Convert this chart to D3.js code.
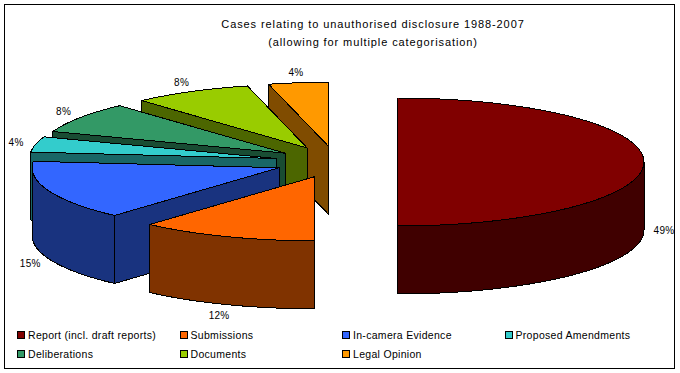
<!DOCTYPE html>
<html lang="en">
<head>
<meta charset="UTF-8">
<title>Cases relating to unauthorised disclosure</title>
<script src="https://d3js.org/d3.v7.min.js"></script>
<style>
  html, body { margin: 0; padding: 0; background: #fff; }
  svg { display: block; }
  text { font-family: "Liberation Sans", Arial, sans-serif; fill: #000; }
  .title { font-size: 11px; letter-spacing: 0.9px; }
  .pct { font-size: 10px; letter-spacing: 0.3px; }
  .legend text { font-size: 10.5px; letter-spacing: 0.3px; }
</style>
</head>
<body>
<div class="chart"></div>
<script>
const categories = ['Report (incl. draft reports)', 'Submissions', 'In-camera Evidence', 'Proposed Amendments', 'Deliberations', 'Documents', 'Legal Opinion'];
const shares = [50, 11.6, 15, 3.9, 7.8, 7.8, 3.9];
// printed labels on the chart
const shareLabels = ['49%', '12%', '15%', '4%', '8%', '8%', '4%'];
const topColors = ['#800000', '#ff6600', '#3366ff', '#33cccc', '#339966', '#99cc00', '#ff9900'];
const sideColors = ['#400000', '#803300', '#19337f', '#196666', '#194c33', '#4c6600', '#804c00'];
const titleLines = ['Cases relating to unauthorised disclosure 1988-2007', '(allowing for multiple categorisation)'];

const width = 680, height = 373;
const cx = 336, cy = 162, rx = 247, ry = 64, depth = 68, explode = 0.247;

const svg = d3.select('.chart').append('svg').attr('width', width).attr('height', height);

svg.append('rect').attr('x', 4.5).attr('y', 4.5).attr('width', 670).attr('height', 364)
  .attr('fill', '#fff').attr('stroke', '#000');

svg.selectAll('text.title').data(titleLines).join('text')
  .attr('class', 'title')
  .attr('x', 373)
  .attr('y', (d, i) => 28 + i * 18)
  .attr('text-anchor', 'middle')
  .text(d => d);

const slices = d3.pie().sort(null).value(d => d)(shares);
slices.forEach((s, i) => {
  s.index = i;
  s.mid = (s.startAngle + s.endAngle) / 2;
  s.x0 = cx + Math.sin(s.mid) * rx * explode;
  s.y0 = cy - Math.cos(s.mid) * ry * explode;
});

// point on the slice's rim, angle clockwise from 12 o'clock
const rim = (s, a, dy = 0) => [s.x0 + Math.sin(a) * rx, s.y0 - Math.cos(a) * ry + dy];
const arcPoints = (s, a0, a1, dy = 0) => d3.range(0, 61).map(k => rim(s, a0 + (a1 - a0) * k / 60, dy));
const line = d3.line();
const closed = pts => line(pts) + 'Z';

const g = svg.append('g').attr('stroke', '#000').attr('stroke-width', 1)
  .attr('stroke-linejoin', 'round').attr('shape-rendering', 'crispEdges');

// painter's order: last slice sits at the back
slices.slice().reverse().forEach(s => {
  const color = topColors[s.index], side = sideColors[s.index];

  // radial wall under the starting edge
  if (s.startAngle > Math.PI - 0.01) {
    const e = rim(s, s.startAngle);
    g.append('path').attr('fill', side).attr('d', closed([
      [s.x0, s.y0], e, [e[0], e[1] + depth], [s.x0, s.y0 + depth]
    ]));
  }

  // outer wall on the front half of the ellipse
  const a0 = Math.max(s.startAngle, Math.PI / 2), a1 = Math.min(s.endAngle, Math.PI * 1.5);
  if (a1 > a0) {
    g.append('path').attr('fill', side).attr('d', closed(
      arcPoints(s, a0, a1).concat(arcPoints(s, a1, a0, depth))
    ));
  }

  // top face
  g.append('path').attr('fill', color).attr('d', closed(
    [[s.x0, s.y0]].concat(arcPoints(s, s.startAngle, s.endAngle))
  ));
});

// percent labels
svg.selectAll('text.pct').data(slices).join('text')
  .attr('class', 'pct')
  .attr('x', s => s.x0 + Math.sin(s.mid) * (rx + 20))
  .attr('y', s => s.y0 - Math.cos(s.mid) * (ry + 11) + (Math.cos(s.mid) < 0.01 ? depth : 0) + 4)
  .attr('text-anchor', 'middle')
  .text(s => shareLabels[s.index]);

// legend, four columns
const colX = d3.scaleLinear().domain([0, 3]).range([17, 504.5]);
const rowY = d3.scaleLinear().domain([0, 1]).range([335, 354]);
const legend = svg.selectAll('g.legend').data(categories).join('g')
  .attr('class', 'legend')
  .attr('transform', (d, i) => `translate(${colX(i % 4)},${rowY(Math.floor(i / 4))})`);
legend.append('rect')
  .attr('x', 0.5).attr('y', -3.5).attr('width', 7).attr('height', 7)
  .attr('shape-rendering', 'crispEdges')
  .attr('fill', (d, i) => topColors[i]).attr('stroke', '#000');
legend.append('text').attr('x', 11).attr('y', 4).text(d => d);
</script>
</body>
</html>
